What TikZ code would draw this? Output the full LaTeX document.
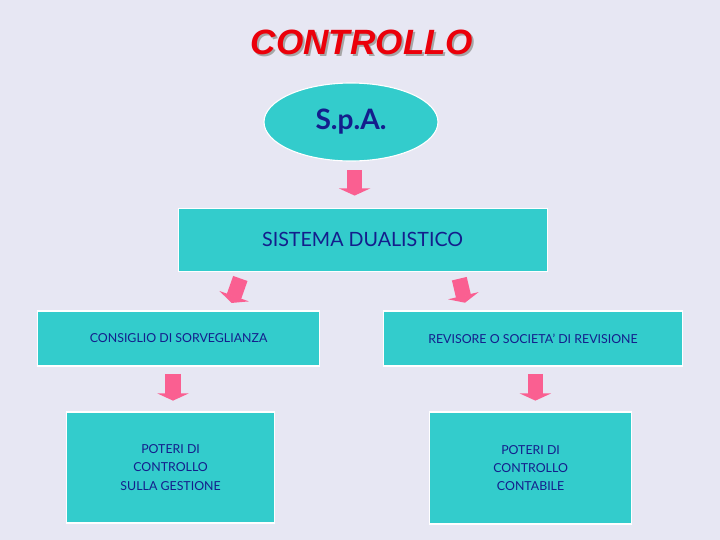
\documentclass[tikz,border=0pt]{standalone}
\usepackage{fontspec}
\setmainfont{Lato}
\newfontfamily\titlefont{Liberation Sans}
\usetikzlibrary{arrows.meta,positioning,shapes.geometric}
\definecolor{ctrlBack}{RGB}{231,231,243}
\definecolor{ctrlTeal}{RGB}{51,204,204}
\definecolor{ctrlNavy}{RGB}{20,30,140}
\definecolor{ctrlPink}{RGB}{250,95,145}
\definecolor{ctrlRed}{RGB}{235,0,10}

\begin{document}
\begin{tikzpicture}[
    box/.style={draw=white, line width=0.8pt, fill=ctrlTeal, text=ctrlNavy, align=center, inner sep=0pt},
    oval/.style={ellipse, draw=white, line width=0.8pt, fill=ctrlTeal, text=ctrlNavy, minimum width=4.35cm, minimum height=1.95cm, inner sep=0pt},
    pinkarrow/.style={draw=ctrlPink, line width=0.38cm, -{Triangle[width=0.78cm,length=0.18cm]}}
  ]
    \fill[ctrlBack] (0,0) rectangle (18,-13.5);
    \node[text=gray!70, font=\titlefont\fontsize{25}{30}\selectfont\bfseries\itshape] (shadow) at (9.1,-1.1) {CONTROLLO};
    \node[text=ctrlRed, font=\titlefont\fontsize{25}{30}\selectfont\bfseries\itshape] (title) at (9.05,-1.05) {CONTROLLO};
    \node[oval, font=\fontsize{20}{24}\selectfont\bfseries] (spa) at (8.775,-3.05) {S.p.A.};
    \node[box, below=1.15cm of spa, xshift=0.29cm, minimum width=9.225cm, minimum height=1.575cm, font=\fontsize{14}{17}\selectfont] (sis) {SISTEMA DUALISTICO};
    \node[box, below=0.97cm of sis, xshift=-4.6cm, minimum width=7.05cm, minimum height=1.375cm, font=\fontsize{8.8}{11}\selectfont] (con) {CONSIGLIO DI SORVEGLIANZA};
    \node[box, below=0.97cm of sis, xshift=4.26cm, minimum width=7.48cm, minimum height=1.375cm, font=\fontsize{8.8}{11}\selectfont] (rev) {REVISORE O SOCIETA' DI REVISIONE};
    \node[box, below=1.12cm of con, xshift=-0.2cm, minimum width=5.2cm, minimum height=2.775cm, font=\fontsize{8.8}{13}\selectfont] (gest) {POTERI DI\\CONTROLLO\\SULLA GESTIONE};
    \node[box, below=1.12cm of rev, xshift=-0.06cm, minimum width=5.05cm, minimum height=2.8cm, font=\fontsize{8.8}{13}\selectfont] (cont) {POTERI DI\\CONTROLLO\\CONTABILE};
    \draw[pinkarrow, shorten <=0.22cm, shorten >=0.3cm] ([xshift=0.09cm]spa.south) -- ([xshift=0.09cm]spa.south |- sis.north);
    \draw[pinkarrow, shorten <=0.18cm, shorten >=0.2cm] ([xshift=1.63cm]sis.south west) -- ([xshift=4.8cm]con.north west);
    \draw[pinkarrow, shorten <=0.18cm, shorten >=0.2cm] ([xshift=-2.25cm]sis.south east) -- ([xshift=2.1cm]rev.north west);
    \draw[pinkarrow, shorten <=0.18cm, shorten >=0.27cm] ([xshift=-0.14cm]con.south) -- ([xshift=-0.14cm]con.south |- gest.north);
    \draw[pinkarrow, shorten <=0.18cm, shorten >=0.27cm] ([xshift=0.06cm]rev.south) -- ([xshift=0.06cm]rev.south |- cont.north);
  \end{tikzpicture}
\end{document}
